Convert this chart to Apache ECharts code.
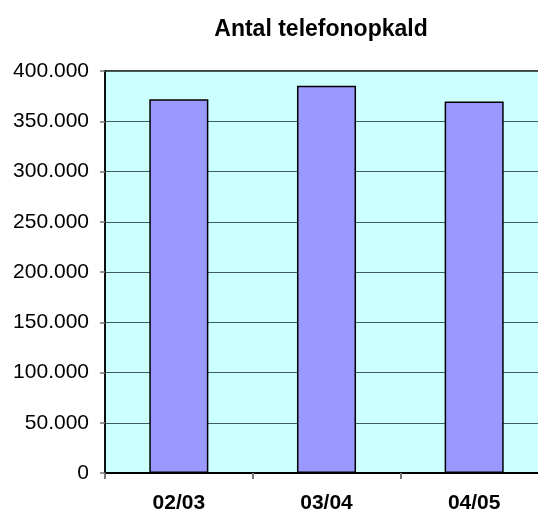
<!DOCTYPE html>
<html><head><meta charset="utf-8">
<script src="https://cdn.jsdelivr.net/npm/echarts@6/dist/echarts.min.js"></script>
<style>html,body{margin:0;padding:0;background:#fff}#c{width:538px;height:515px}</style>
</head><body><div id="c"></div>
<script>
var categories = ['02/03', '03/04', '04/05'];
var calls = [371800, 385400, 369700];
var yTicks = [0, 50000, 100000, 150000, 200000, 250000, 300000, 350000, 400000];
var titleText = 'Antal telefonopkald';

function fmt(v){ return String(v).replace(/\B(?=(\d{3})+(?!\d))/g, '.'); }

var chart = echarts.init(document.getElementById('c'), null, {renderer:'canvas'});
chart.setOption({
  animation: false,
  title: {
    text: titleText, left: 316, top: 13, textAlign: 'center',
    textStyle: {fontFamily: 'Liberation Sans, Arial', fontWeight: 'bold', fontSize: 23, color: '#000'}
  },
  grid: {
    left: 105, top: 71, width: 443, height: 402,
    outerBoundsMode: 'none', containLabel: false,
    show: true, backgroundColor: '#CCFFFF', borderColor: '#000', borderWidth: 1.5
  },
  xAxis: {
    type: 'category', data: categories,
    axisLine: {lineStyle: {color: '#000', width: 2}},
    axisTick: {show: true, length: 6, lineStyle: {color: '#777', width: 2}},
    axisLabel: {margin: 20, fontFamily: 'Liberation Sans, Arial', fontWeight: 'bold', fontSize: 21, color: '#000'},
    splitLine: {show: false}
  },
  yAxis: {
    type: 'value', min: yTicks[0], max: yTicks[yTicks.length-1], interval: 50000,
    axisLine: {show: true, lineStyle: {color: '#000', width: 1.5}},
    axisTick: {show: true, length: 5, lineStyle: {color: '#777', width: 1.5}},
    axisLabel: {margin: 16, fontFamily: 'Liberation Sans, Arial', fontSize: 21, color: '#000', formatter: fmt},
    splitLine: {show: true, lineStyle: {color: '#3f5f5f', width: 1}}
  },
  series: [{
    type: 'bar', data: calls, barCategoryGap: '60%',
    itemStyle: {color: '#9999FF', borderColor: '#000', borderWidth: 1.5}
  }]
});
</script></body></html>
